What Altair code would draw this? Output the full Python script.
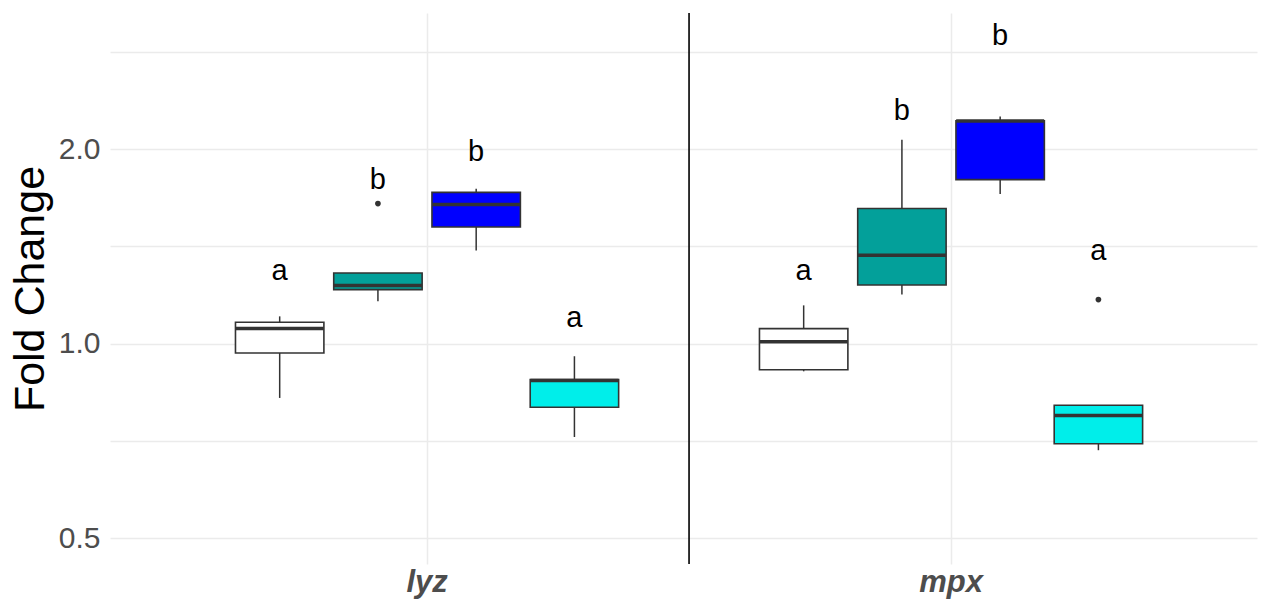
import altair as alt
import pandas as pd

# Genes on the x axis and the four treatment groups dodged within each gene
genes = ["lyz", "mpx"]
groups = ["g1", "g2", "g3", "g4"]
fills = ["#FFFFFF", "#03A09A", "#0000FF", "#00EEEA"]

# Box-plot summaries (fold change), one entry per group
lyz_low = [0.824, 1.163, 1.393, 0.717]
lyz_q1 = [0.967, 1.212, 1.515, 0.797]
lyz_med = [1.055, 1.230, 1.641, 0.877]
lyz_q3 = [1.079, 1.286, 1.714, 0.880]
lyz_high = [1.102, 1.286, 1.737, 0.956]

mpx_low = [0.906, 1.191, 1.704, 0.684]
mpx_q1 = [0.911, 1.232, 1.794, 0.700]
mpx_med = [1.007, 1.370, 2.210, 0.774]
mpx_q3 = [1.055, 1.618, 2.213, 0.803]
mpx_high = [1.146, 2.068, 2.247, 0.803]

# Outlying observations
outlier_gene = ["lyz", "mpx"]
outlier_group = ["g2", "g4"]
outlier_value = [1.647, 1.170]

# Significance letters and the height at which each is written
lyz_letters = ["a", "b", "b", "a"]
lyz_letter_y = [1.294, 1.794, 1.982, 1.097]
mpx_letters = ["a", "b", "b", "a"]
mpx_letter_y = [1.294, 2.288, 2.988, 1.389]

# Axis breaks: labelled major lines and unlabelled minor lines
major_breaks = [0.5, 1.0, 2.0]
minor_breaks = [0.7071, 1.4142, 2.8284]

boxes = pd.DataFrame({
    "gene": ["lyz"] * 4 + ["mpx"] * 4,
    "group": groups * 2,
    "low": lyz_low + mpx_low,
    "q1": lyz_q1 + mpx_q1,
    "median": lyz_med + mpx_med,
    "q3": lyz_q3 + mpx_q3,
    "high": lyz_high + mpx_high,
    "letter": lyz_letters + mpx_letters,
    "letter_y": lyz_letter_y + mpx_letter_y,
})
outliers = pd.DataFrame({"gene": outlier_gene, "group": outlier_group, "value": outlier_value})
divider = pd.DataFrame({"gene": ["mpx"]})

FONT = "Liberation Sans"
GRID = "#EBEBEB"
EDGE = "#333333"

x_scale = alt.Scale(domain=genes, paddingInner=0, paddingOuter=0.0945, align=0.556)
x_axis = alt.Axis(
    title=None, grid=True, gridColor=GRID, gridWidth=1.5, ticks=False, tickSize=0,
    domain=False, bandPosition=0.5, labelAngle=0, labelFont=FONT, labelFontSize=31,
    labelFontStyle="italic", labelFontWeight="bold", labelColor="#4D4D4D", labelPadding=3,
)
y_scale = alt.Scale(type="log", base=2, domain=[0.456, 3.248], nice=False)
y_axis = alt.Axis(
    title="Fold Change", values=major_breaks + minor_breaks,
    labelExpr="indexof([0.5, 1, 2], datum.value) >= 0 ? format(datum.value, '.1f') : ''",
    grid=True, gridColor=GRID, gridWidth=1.5, ticks=False, tickSize=0, domain=False,
    labelFont=FONT, labelFontSize=30, labelColor="#4D4D4D", labelPadding=10,
    titleFont=FONT, titleFontSize=43, titleFontWeight="normal", titleColor="black",
    titleAngle=-90, titleX=-80, titleY=275.5, titleAlign="center", titleBaseline="middle",
)

X = alt.X("gene:N", scale=x_scale, axis=x_axis)
# dodge: 4 slots over 0.75 of each gene band, boxes 0.9 of a slot
XO = alt.XOffset("group:N", scale=alt.Scale(domain=groups, paddingInner=0.1, paddingOuter=0.7167))


def Y(field):
    return alt.Y(f"{field}:Q", scale=y_scale, axis=y_axis)


base = alt.Chart(boxes)

divider_rule = alt.Chart(divider).mark_rule(color="black", strokeWidth=1.6).encode(
    x=alt.X("gene:N", scale=x_scale, axis=x_axis, bandPosition=0)
)

whiskers = base.mark_rule(color=EDGE, strokeWidth=1.5).encode(
    x=X, xOffset=XO, y=Y("low"), y2="high"
)

box = base.mark_bar(stroke=EDGE, strokeWidth=1.6).encode(
    x=X, xOffset=XO, y=Y("q1"), y2="q3",
    color=alt.Color("group:N", scale=alt.Scale(domain=groups, range=fills), legend=None),
)

medians = base.mark_tick(color=EDGE, thickness=3.5, size=88, opacity=1).encode(
    x=X, xOffset=XO, y=Y("median")
)

points = alt.Chart(outliers).mark_circle(color=EDGE, size=32, opacity=1).encode(
    x=X, xOffset=XO, y=Y("value")
)

letters = base.mark_text(font=FONT, fontSize=29, color="black", baseline="middle").encode(
    x=X, xOffset=XO, y=Y("letter_y"), text="letter:N"
)

chart = (
    alt.layer(divider_rule, whiskers, box, medians, points, letters)
    .properties(
        width=1147, height=551,
        autosize=alt.AutoSizeParams(type="none"),
        padding={"left": 110, "top": 13, "right": 19, "bottom": 41},
        background="white",
    )
    .configure_view(strokeWidth=0)
)

chart.save("out.html", embed_options={"renderer": "svg", "actions": False})
